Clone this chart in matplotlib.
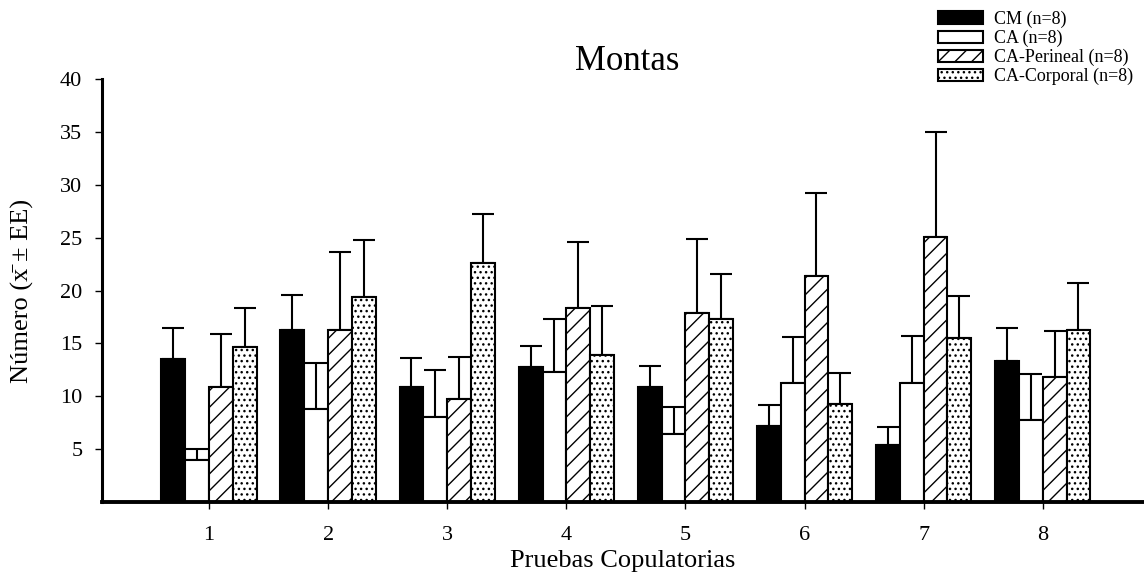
import numpy as np
import matplotlib.pyplot as plt

plt.rcParams['font.family'] = ['Liberation Serif', 'DejaVu Serif']
plt.rcParams['hatch.linewidth'] = 1.0

# Data
pruebas = ['1', '2', '3', '4', '5', '6', '7', '8']
grupos = ['CM (n=8)', 'CA (n=8)', 'CA-Perineal (n=8)', 'CA-Corporal (n=8)']

cm = [13.5, 16.3, 10.9, 12.8, 10.9, 7.2, 5.4, 13.3]
cm_ee = [3.0, 3.3, 2.7, 2.0, 2.0, 2.0, 1.7, 3.2]
ca = [4.0, 8.8, 8.0, 12.3, 6.4, 11.3, 11.3, 7.8]
ca_ee = [1.0, 4.3, 4.5, 5.0, 2.6, 4.3, 4.4, 4.3]
per = [10.9, 16.3, 9.7, 18.3, 17.9, 21.4, 25.1, 11.8]
per_ee = [5.0, 7.3, 4.0, 6.3, 7.0, 7.8, 9.9, 4.4]
cor = [14.7, 19.4, 22.6, 13.9, 17.3, 9.3, 15.5, 16.3]
cor_ee = [3.6, 5.4, 4.6, 4.6, 4.3, 2.9, 4.0, 4.4]

series = [cm, ca, per, cor]
errors = [cm_ee, ca_ee, per_ee, cor_ee]
colors = ['black', 'white', 'white', 'white']
hatches = [None, None, '//', '...']

fig = plt.figure(figsize=(11.44, 5.77), dpi=100)
ax = fig.add_axes([0.089, 0.13, 0.911, 0.733])

x = np.arange(1, len(pruebas) + 1)
w = 0.2
for i in range(4):
    pos = x + (i - 1.5) * w
    ax.bar(pos, series[i], w, color=colors[i], edgecolor='black', linewidth=1.5,
           hatch=hatches[i], label=grupos[i], zorder=2)
    ax.errorbar(pos, series[i], yerr=[np.zeros(8), errors[i]], fmt='none',
                ecolor='black', elinewidth=1.5, capsize=8, capthick=1.5, zorder=1)

ax.set_xlim(0.1, 8.85)
ax.set_ylim(0, 40)
ax.set_yticks([5, 10, 15, 20, 25, 30, 35, 40])
ax.set_xticks(x)
ax.set_xticklabels(pruebas)
ax.tick_params(labelsize=16, direction='out', length=5, width=1)
ax.tick_params(axis='x', pad=12)
ax.tick_params(axis='y', pad=9)
ax.spines['top'].set_visible(False)
ax.spines['right'].set_visible(False)
ax.spines['left'].set_linewidth(2.2)
ax.spines['bottom'].set_linewidth(2.8)

ax.set_xlabel('Pruebas Copulatorias', fontsize=19, labelpad=4)
ax.set_ylabel('Número (x\u0304 ± EE)', fontsize=19, labelpad=19)
fig.text(0.548, 0.879, 'Montas', fontsize=25, ha='center', va='baseline')

fig.legend(loc='upper right', bbox_to_anchor=(1.0, 1.0), frameon=False, fontsize=13,
           handlelength=2.5, handleheight=0.7, labelspacing=0.1, handletextpad=0.6,
           borderaxespad=0.2, borderpad=0.4)

fig.savefig('out.png', dpi=100)
